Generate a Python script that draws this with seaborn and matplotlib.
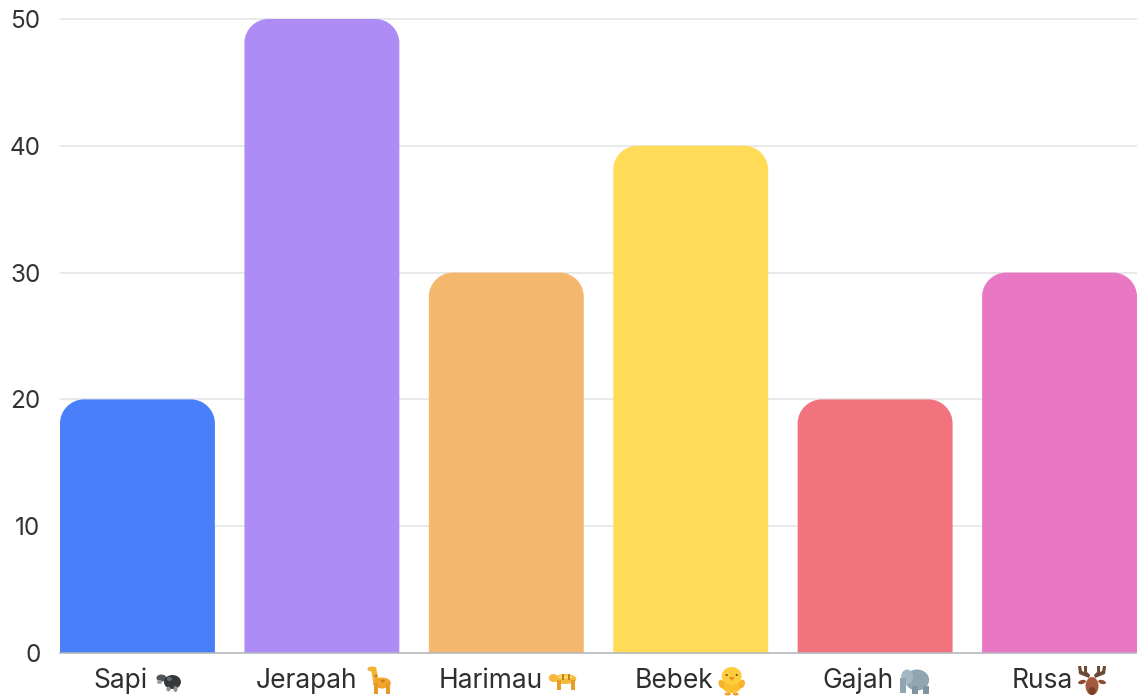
import matplotlib
matplotlib.use("Agg")
import matplotlib.pyplot as plt
import seaborn as sns
import pandas as pd
from matplotlib.offsetbox import AnnotationBbox, DrawingArea
from matplotlib.patches import Ellipse, PathPatch, Polygon, Rectangle
from matplotlib.path import Path
from matplotlib.transforms import Affine2D, ScaledTranslation

animals = ["Sapi", "Jerapah", "Harimau", "Bebek", "Gajah", "Rusa"]
counts = [20, 50, 30, 40, 20, 30]
colors = ["#4A7FFB", "#AD8CF5", "#F3B76D", "#FFDB58", "#F0737E", "#E878C4"]
y_ticks = [0, 10, 20, 30, 40, 50]

sns.set_theme(style="white")
plt.rcParams["font.family"] = ["Inter", "DejaVu Sans"]

df = pd.DataFrame({"animal": animals, "count": counts})

fig = plt.figure(figsize=(11.37, 6.97), dpi=100)
ax = fig.add_axes([60 / 1137, 44 / 697, 1077 / 1137, 634 / 697])
sns.barplot(data=df, x="animal", y="count", hue="animal", palette=colors,
            width=0.84, legend=False, saturation=1, ax=ax)

ax.set_xlim(-0.42, 5.42)
ax.set_ylim(0, 50)
ax.set_xlabel("")
ax.set_ylabel("")
ax.set_yticks(y_ticks)
ax.grid(axis="y", color="#E4E5E8", lw=1.2)
ax.set_axisbelow(True)
for line in ax.get_ygridlines():
    line.set_clip_on(False)
sns.despine(ax=ax, left=True, top=True, right=True)
ax.spines["bottom"].set_color("#B4B8BD")
ax.spines["bottom"].set_linewidth(1.1)
ax.tick_params(axis="y", length=0, pad=14, labelsize=17.5, labelcolor="#333333")
ax.tick_params(axis="x", length=0, pad=10.5, labelsize=19, labelcolor="#2E2E2E")


# round the top corners of each bar
rx = 24 / (1077 / 5.84)
ry = 24 / (634 / 50)
k = 0.45
for bar in list(ax.patches):
    x0, x1 = bar.get_x(), bar.get_x() + bar.get_width()
    h = bar.get_height()
    verts = [(x0, 0), (x0, h - ry),
             (x0, h - ry * k), (x0 + rx * k, h), (x0 + rx, h),
             (x1 - rx, h),
             (x1 - rx * k, h), (x1, h - ry * k), (x1, h - ry),
             (x1, 0), (x0, 0)]
    codes = [Path.MOVETO, Path.LINETO,
             Path.CURVE4, Path.CURVE4, Path.CURVE4,
             Path.LINETO,
             Path.CURVE4, Path.CURVE4, Path.CURVE4,
             Path.LINETO, Path.CLOSEPOLY]
    ax.add_patch(PathPatch(Path(verts, codes), facecolor=bar.get_facecolor(),
                           edgecolor="none", zorder=2))
    bar.remove()


# the picture has colour emoji after the names, no installed font has them
def ell(x, y, w, h, c, angle=0):
    return Ellipse((x, y), w, h, angle=angle, facecolor=c, edgecolor="none")


def poly(pts, c):
    return Polygon(pts, closed=True, facecolor=c, edgecolor="none")


def rect(x, y, w, h, c):
    return Rectangle((x, y), w, h, facecolor=c, edgecolor="none")


def icon_cow():
    return [ell(-7, 3, 10, 7, "#50565C"), ell(-9, -1, 5, 4, "#9A9FA3"),
            ell(4, -1, 17, 14, "#33383D"), ell(1, 2, 5, 4, "#656B70"),
            ell(7, -8, 4, 6, "#8D9196"), ell(0, -8, 4, 5, "#8D9196")]


def icon_giraffe():
    return [poly([(-8, 14), (-3, 14), (0, 0), (-6, 0)], "#F5B335"),
            ell(-7, 12, 9, 5, "#F5B335"),
            ell(3, -2, 18, 11, "#F2A52C"),
            rect(-5, -13, 4, 11, "#E59A25"), rect(7, -13, 4, 11, "#E59A25"),
            ell(-3, 5, 3, 3, "#C97F1E"), ell(4, 0, 4, 3, "#C97F1E")]


def icon_tiger():
    return [ell(2, 2, 22, 10, "#F6B93B"), ell(-10, 3, 9, 8, "#F6B93B"),
            ell(2, 4, 15, 4, "#FBD85E"),
            rect(-6, -9, 4, 10, "#E89E25"), rect(8, -9, 4, 10, "#E89E25"),
            rect(-1, 1, 2, 6, "#C97F1E"), rect(5, 1, 2, 6, "#C97F1E")]


def icon_chick():
    return [ell(0, -4, 20, 16, "#FBC02D"), ell(0, 5, 20, 18, "#FFCC3D"),
            ell(-10, -3, 6, 9, "#F7B32B", 20), ell(10, -3, 6, 9, "#F7B32B", -20),
            poly([(-3, 4), (3, 4), (0, 0)], "#F08C1E"),
            ell(-5, 6, 2, 2, "#5D4420"), ell(5, 6, 2, 2, "#5D4420"),
            ell(-4, -13, 6, 3, "#F0A025"), ell(4, -13, 6, 3, "#F0A025")]


def icon_elephant():
    return [ell(2, 1, 24, 21, "#8FA5B2"), ell(-8, 4, 12, 15, "#A5B7C2"),
            rect(-15, -12, 6, 15, "#8FA5B2"),
            rect(-3, -13, 6, 8, "#7F95A3"), rect(8, -13, 6, 8, "#7F95A3")]


def icon_deer():
    return [ell(0, -5, 13, 18, "#A3593D"), ell(0, -10, 7, 8, "#7B3F2A"),
            ell(-10, -1, 8, 4, "#8D4D34", 15), ell(10, -1, 8, 4, "#8D4D34", -15),
            poly([(-3, 3), (-13, 7), (-14, 15), (-11, 15), (-10, 10), (-8, 9),
                  (-8, 15), (-5, 15), (-5, 9), (-2, 6)], "#6B4A36"),
            poly([(3, 3), (13, 7), (14, 15), (11, 15), (10, 10), (8, 9),
                  (8, 15), (5, 15), (5, 9), (2, 6)], "#6B4A36")]


icons = [icon_cow, icon_giraffe, icon_tiger, icon_chick, icon_elephant, icon_deer]
# px from the bar centre: name centre and emoji centre
text_shift = [-16.5, -15.5, -16, -16.5, -17.5, -17.5]
icon_shift = [31, 57, 57, 41, 40, 32.5]

px = 72 / fig.dpi
for i, lab in enumerate(ax.get_xticklabels()):
    lab.set_transform(lab.get_transform() +
                      ScaledTranslation(text_shift[i] / fig.dpi, 0, fig.dpi_scale_trans))
    area = DrawingArea(34 * px, 34 * px, 0, 0)
    for shape in icons[i]():
        area.add_artist(shape)
        shape.set_transform(Affine2D().scale(px).translate(17 * px, 17 * px)
                            + area.get_transform())
    ab = AnnotationBbox(area, (i, 0), xycoords=ax.get_xaxis_transform(),
                        xybox=(icon_shift[i] * px, -28 * px),
                        boxcoords="offset points", frameon=False,
                        annotation_clip=False, pad=0, box_alignment=(0.5, 0.5))
    ax.add_artist(ab)

fig.savefig("out.png", dpi=100)
